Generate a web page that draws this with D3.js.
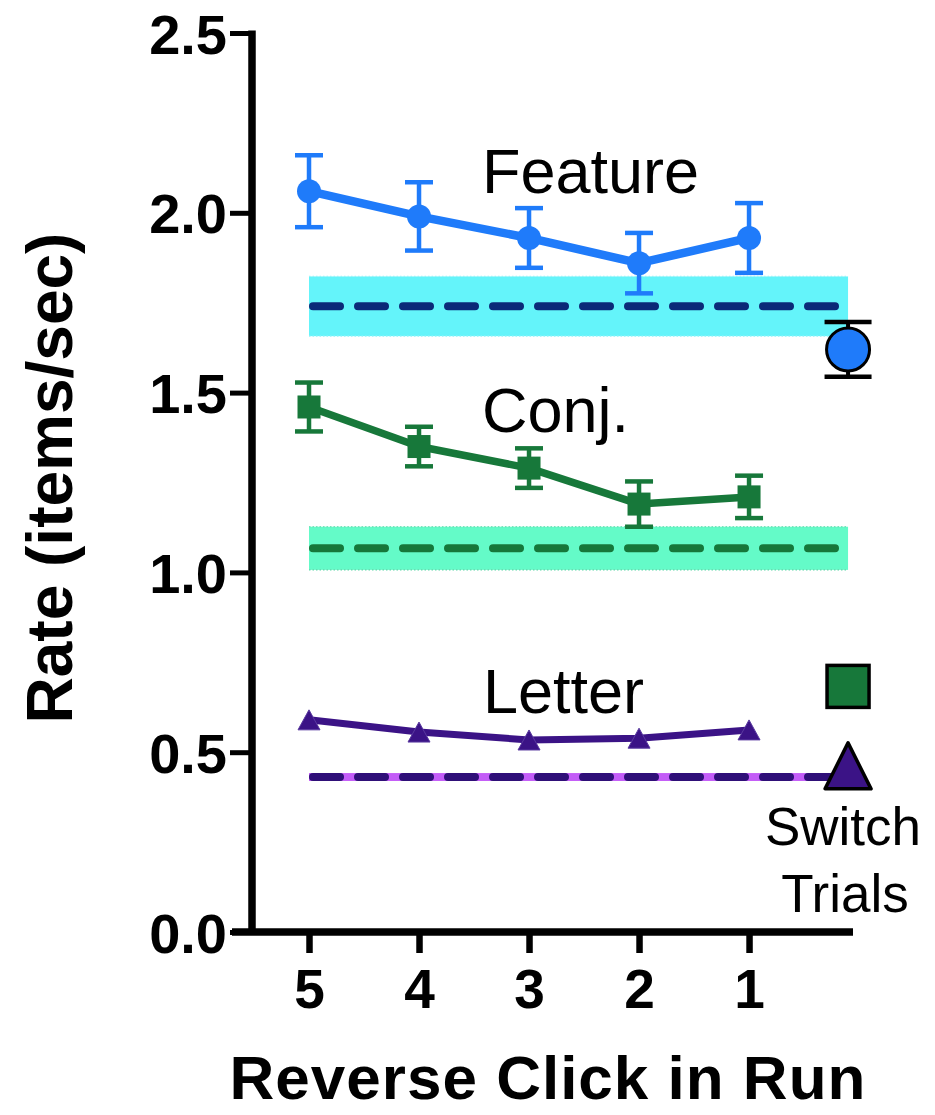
<!DOCTYPE html>
<html>
<head>
<meta charset="utf-8">
<script src="https://cdn.jsdelivr.net/npm/d3@7"></script>
<style>
  html, body { margin: 0; padding: 0; background: #fff; }
  svg { display: block; }
  text { font-family: "Liberation Sans", Arial, Helvetica, sans-serif; }
</style>
</head>
<body>
<svg id="chart" width="935" height="1115"></svg>
<script>
// ---------- data ----------
const categories = [5, 4, 3, 2, 1];
const featureMean = [2.06, 1.99, 1.93, 1.86, 1.93];
const featureSem  = [0.100, 0.095, 0.083, 0.084, 0.097];
const conjMean    = [1.46, 1.35, 1.29, 1.19, 1.21];
const conjSem     = [0.068, 0.055, 0.055, 0.063, 0.059];
const letterMean  = [0.59, 0.556, 0.534, 0.539, 0.562];

const baselineNames = ["Feature", "Conj.", "Letter"];
const baselineMean  = [1.74, 1.067, 0.431];
const baselineSem   = [0.083, 0.060, 0.011];
const bandStart = 5;
const bandEnd = 0.1;

const switchX    = 0.1;
const switchMean = [1.62, 0.683, 0.462];
const switchSem  = [0.076, 0, 0];

const yTicks = [0, 0.5, 1.0, 1.5, 2.0, 2.5];
const yTickLabels = ["0.0", "0.5", "1.0", "1.5", "2.0", "2.5"];
const xTickLabels = ["5", "4", "3", "2", "1"];

// ---------- scales ----------
const svg = d3.select("#chart");
const x = d3.scaleLinear().domain([5.7, 0.055]).range([232, 853]);
const y = d3.scaleLinear().domain([0, 2.5]).range([932, 33]);

const C = {
  feature: "#1f7bfa", featureBand: "#64f4fa", featureDash: "#0b2a78",
  conj: "#17783a", conjBand: "#64fbc8", conjDash: "#16773a",
  letter: "#3b1386", letterBand: "#c35cf7", letterDash: "#2f0f78"
};

// ---------- baseline bands ----------
const bandColors = [C.featureBand, C.conjBand, C.letterBand];
const dashColors = [C.featureDash, C.conjDash, C.letterDash];
const bandG = svg.append("g");
baselineMean.forEach((m, i) => {
  const top = y(m + baselineSem[i]), bot = y(m - baselineSem[i]);
  bandG.append("rect")
    .attr("x", x(bandStart)).attr("width", x(bandEnd) - x(bandStart))
    .attr("y", top).attr("height", bot - top)
    .attr("fill", bandColors[i]);
  if (i < 2) {
    [top, bot].forEach(yy => bandG.append("line")
      .attr("x1", x(bandStart)).attr("x2", x(bandEnd))
      .attr("y1", yy).attr("y2", yy)
      .attr("stroke", i === 0 ? "#9af2f8" : "#5fd6a8").attr("stroke-width", 1.2)
      .attr("stroke-dasharray", "1.5,2"));
  }
  bandG.append("line")
    .attr("x1", x(bandStart) + 4).attr("x2", x(bandEnd))
    .attr("y1", y(m)).attr("y2", y(m))
    .attr("stroke", dashColors[i]).attr("stroke-width", 8)
    .attr("stroke-linecap", "round")
    .attr("stroke-dasharray", "27,18");
});

// ---------- series ----------
function triPath(cx, cy, w, h) {
  return `M${cx},${cy - h / 2}L${cx + w / 2},${cy + h / 2}L${cx - w / 2},${cy + h / 2}Z`;
}

function drawSeries(mean, sem, color, lineW, marker) {
  const g = svg.append("g");
  const pts = categories.map((c, i) => ({ c, m: mean[i], s: sem ? sem[i] : 0 }));
  g.append("path").datum(pts)
    .attr("fill", "none").attr("stroke", color).attr("stroke-width", lineW)
    .attr("stroke-linejoin", "round")
    .attr("d", d3.line().x(d => x(d.c)).y(d => y(d.m)));
  if (sem) {
    const eb = g.selectAll(".eb").data(pts).join("g");
    eb.append("line")
      .attr("x1", d => x(d.c)).attr("x2", d => x(d.c))
      .attr("y1", d => y(d.m + d.s)).attr("y2", d => y(d.m - d.s))
      .attr("stroke", color).attr("stroke-width", 4.5);
    [1, -1].forEach(sg => eb.append("line")
      .attr("x1", d => x(d.c) - 14).attr("x2", d => x(d.c) + 14)
      .attr("y1", d => y(d.m + sg * d.s)).attr("y2", d => y(d.m + sg * d.s))
      .attr("stroke", color).attr("stroke-width", 4.5));
  }
  if (marker === "circle") {
    g.selectAll(".mk").data(pts).join("circle")
      .attr("cx", d => x(d.c)).attr("cy", d => y(d.m)).attr("r", 12)
      .attr("fill", color);
  } else if (marker === "square") {
    g.selectAll(".mk").data(pts).join("rect")
      .attr("x", d => x(d.c) - 11.5).attr("y", d => y(d.m) - 11.5)
      .attr("width", 23).attr("height", 23).attr("fill", color);
  } else {
    g.selectAll(".mk").data(pts).join("path")
      .attr("d", d => triPath(x(d.c), y(d.m), 22, 20))
      .attr("fill", color).attr("stroke", "#5a3aa0").attr("stroke-width", 1);
  }
}
drawSeries(featureMean, featureSem, C.feature, 8.5, "circle");
drawSeries(conjMean, conjSem, C.conj, 7.5, "square");
drawSeries(letterMean, null, C.letter, 7, "triangle");

// ---------- switch trials ----------
const sw = svg.append("g");
const sx = x(switchX);
sw.append("line").attr("x1", sx).attr("x2", sx)
  .attr("y1", y(switchMean[0] + switchSem[0])).attr("y2", y(switchMean[0] - switchSem[0]))
  .attr("stroke", "#000").attr("stroke-width", 4);
[1, -1].forEach(sg => sw.append("line")
  .attr("x1", sx - 23.5).attr("x2", sx + 23.5)
  .attr("y1", y(switchMean[0] + sg * switchSem[0])).attr("y2", y(switchMean[0] + sg * switchSem[0]))
  .attr("stroke", "#000").attr("stroke-width", 4.5));
sw.append("circle").attr("cx", sx).attr("cy", y(switchMean[0])).attr("r", 21.5)
  .attr("fill", C.feature).attr("stroke", "#000").attr("stroke-width", 3);
sw.append("rect").attr("x", sx - 21).attr("y", y(switchMean[1]) - 21)
  .attr("width", 42).attr("height", 42)
  .attr("fill", C.conj).attr("stroke", "#000").attr("stroke-width", 3.5);
sw.append("path").attr("d", triPath(sx, y(switchMean[2]), 46, 46))
  .attr("fill", C.letter).attr("stroke", "#000").attr("stroke-width", 3.5)
  .attr("stroke-linejoin", "round");

// ---------- axes ----------
const yAxis = svg.append("g").attr("transform", "translate(252,0)")
  .call(d3.axisLeft(y).tickValues(yTicks).tickFormat((d, i) => yTickLabels[i])
    .tickSize(22).tickSizeOuter(0).tickPadding(3));
yAxis.select(".domain").remove();
yAxis.selectAll(".tick line").attr("stroke", "#000").attr("stroke-width", 5);
yAxis.selectAll(".tick text").attr("fill", "#000")
  .style("font-size", "56px").style("font-weight", "bold")
  .attr("dy", "0.36em");
svg.append("line").attr("x1", 252).attr("x2", 252)
  .attr("y1", y.range()[0]).attr("y2", y.range()[1] - 2.5)
  .attr("stroke", "#000").attr("stroke-width", 7.5);

const xAxis = svg.append("g").attr("transform", "translate(0,932)")
  .call(d3.axisBottom(x).tickValues(categories).tickFormat((d, i) => xTickLabels[i])
    .tickSize(21).tickSizeOuter(0).tickPadding(16));
xAxis.select(".domain").remove();
xAxis.selectAll(".tick line").attr("stroke", "#000").attr("stroke-width", 6.5);
xAxis.selectAll(".tick text").attr("fill", "#000")
  .style("font-size", "55px").style("font-weight", "bold");
svg.append("line").attr("x1", x.range()[0]).attr("x2", x.range()[1])
  .attr("y1", 932).attr("y2", 932)
  .attr("stroke", "#000").attr("stroke-width", 7.5);

// ---------- labels ----------
const lab = svg.append("g").attr("fill", "#000").style("font-size", "63px");
lab.append("text").attr("x", 482).attr("y", 193).text(baselineNames[0]);
lab.append("text").attr("x", 482).attr("y", 432).text(baselineNames[1]);
lab.append("text").attr("x", 483).attr("y", 713).text(baselineNames[2]);

const swl = svg.append("g").attr("fill", "#000").style("font-size", "53px")
  .attr("text-anchor", "middle");
swl.append("text").attr("x", 843).attr("y", 845).text("Switch");
swl.append("text").attr("x", 845).attr("y", 912).text("Trials");

svg.append("text").attr("transform", "translate(72,478) rotate(-90)")
  .attr("text-anchor", "middle").style("font-size", "64px").style("font-weight", "bold")
  .attr("fill", "#000").text("Rate (items/sec)");

svg.append("text").attr("x", 548).attr("y", 1099)
  .attr("text-anchor", "middle").style("font-size", "62px").style("font-weight", "bold")
  .style("letter-spacing", "1px")
  .attr("fill", "#000").text("Reverse Click in Run");
</script>
</body>
</html>
